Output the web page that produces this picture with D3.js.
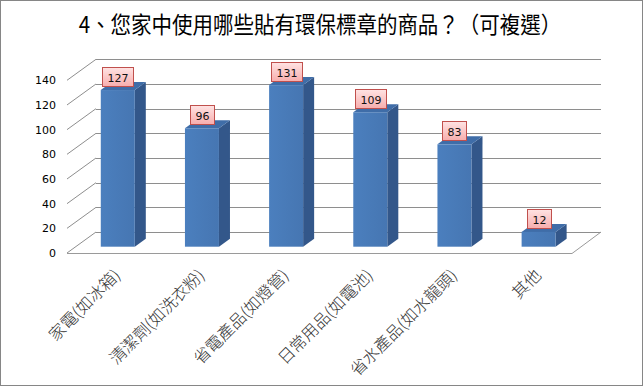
<!DOCTYPE html>
<html>
<head>
<meta charset="utf-8">
<script src="https://cdn.jsdelivr.net/npm/d3@7"></script>
<style>
  html, body { margin: 0; padding: 0; background: #fff; }
  svg { display: block; }
</style>
</head>
<body>
<div id="chart"></div>
<script>
// ── Données ───────────────────────────────────────────────────────────────
const title = '4、您家中使用哪些貼有環保標章的商品？（可複選）';
const categories = ['家電(如冰箱)', '清潔劑(如洗衣粉)', '省電產品(如燈管)', '日常用品(如電池)', '省水產品(如水龍頭)', '其他'];
const values = [127, 96, 131, 109, 83, 12];
const yTicks = [0, 20, 40, 60, 80, 100, 120, 140];

// ── Mise en page ─────────────────────────────────────────────────────────
const W = 644, H = 387;
const DX = 29, DY = 21;           // profondeur oblique du plancher
const zFront = 0.3, zBack = 0.68; // profondeur des barres

const svg = d3.select('#chart').append('svg').attr('width', W).attr('height', H);

svg.append('rect').attr('x', 0.5).attr('y', 0.5).attr('width', W - 2).attr('height', H - 2)
  .attr('fill', '#fff').attr('stroke', '#868686').attr('stroke-width', 1);

const x = d3.scaleBand().domain(categories).range([67, 572]);
const y = d3.scaleLinear().domain([0, 140]).range([253, 80.3]);

// projection oblique : (x, valeur, z) -> écran
const px = (xv, z) => xv + z * DX;
const py = (v, z) => y(v) - z * DY;

const defs = svg.append('defs');
const gFront = defs.append('linearGradient').attr('id', 'gFront').attr('x1', 0).attr('x2', 1);
gFront.append('stop').attr('offset', '0%').attr('stop-color', '#4B7FBE');
gFront.append('stop').attr('offset', '100%').attr('stop-color', '#4676B2');
const gLab = defs.append('linearGradient').attr('id', 'gLab').attr('x1', 0).attr('x2', 0).attr('y1', 0).attr('y2', 1);
gLab.append('stop').attr('offset', '0%').attr('stop-color', '#FFE3E3');
gLab.append('stop').attr('offset', '100%').attr('stop-color', '#F7ADAD');

// Titre
svg.append('text').attr('transform', 'translate(320,33) scale(1,1.1)').attr('text-anchor', 'middle')
  .attr('font-family', '"Noto Sans CJK TC", sans-serif').attr('font-size', '20.5px')
  .attr('fill', '#000').text(title);

// Grille : mur du fond + mur gauche
const x0 = x.range()[0], x1 = x.range()[1];
const grid = svg.append('g').attr('stroke', '#8E8E8E').attr('stroke-width', 1).attr('fill', 'none');
yTicks.forEach(t => {
  grid.append('line').attr('x1', px(x0, 1)).attr('x2', px(x1, 1))
    .attr('y1', Math.round(py(t, 1)) + 0.5).attr('y2', Math.round(py(t, 1)) + 0.5);
  grid.append('line').attr('x1', px(x0, 0)).attr('y1', py(t, 0))
    .attr('x2', px(x0, 1)).attr('y2', py(t, 1));
});
// Plancher
grid.append('path').attr('d', `M${px(x0,0)},${Math.round(py(0,0))+0.5} L${px(x1,0)},${Math.round(py(0,0))+0.5} L${px(x1,1)},${py(0,1)}`)
  .attr('stroke', '#9A9A9A');

// Étiquettes de l'axe Y
svg.append('g').selectAll('text').data(yTicks).enter().append('text')
  .attr('x', 56).attr('y', d => y(d) + 4).attr('text-anchor', 'end')
  .attr('font-family', '"DejaVu Sans", Verdana, sans-serif').attr('font-size', '11px')
  .attr('fill', '#000').text(d => d);

// Barres 3D
const bw = x.bandwidth() * 0.404;
const bars = svg.append('g');
categories.forEach((c, i) => {
  const v = values[i];
  const cx = x(c) + x.bandwidth() / 2;
  const l = px(cx - bw / 2, zFront), r = px(cx + bw / 2, zFront);
  const yt = py(v, zFront), yb = py(0, zFront);
  const ddx = (zBack - zFront) * DX, ddy = (zBack - zFront) * DY;
  bars.append('path').attr('d', `M${r},${yt} L${r+ddx},${yt-ddy} L${r+ddx},${yb-ddy} L${r},${yb}Z`).attr('fill', '#33578A');
  bars.append('path').attr('d', `M${l},${yt} L${l+ddx},${yt-ddy} L${r+ddx},${yt-ddy} L${r},${yt}Z`).attr('fill', '#3F6DA8');
  bars.append('rect').attr('x', l).attr('y', yt).attr('width', r - l).attr('height', yb - yt).attr('fill', 'url(#gFront)');

  // Étiquette de valeur
  const txt = String(v);
  const lw = txt.length * 7 + 10, lh = 19;
  const lc = (l + r) / 2;
  const g = svg.append('g').attr('transform', `translate(${Math.round(lc - lw / 2) + 0.5},${Math.round(yt - 4 - lh) + 0.5})`);
  g.append('rect').attr('width', lw).attr('height', lh).attr('fill', 'url(#gLab)')
    .attr('stroke', '#C0504D').attr('stroke-width', 1);
  g.append('text').attr('x', lw / 2).attr('y', 14).attr('text-anchor', 'middle')
    .attr('font-family', '"DejaVu Sans", Verdana, sans-serif').attr('font-size', '11px')
    .attr('fill', '#111').text(txt);
});

// Étiquettes des catégories (rotation -45°)
svg.append('g').selectAll('text').data(categories).enter().append('text')
  .attr('transform', d => `translate(${x(d) + x.bandwidth() / 2 + 3},${267}) rotate(-45)`)
  .attr('text-anchor', 'end').attr('dy', '0.8em')
  .attr('font-family', '"Noto Sans CJK TC", sans-serif').attr('font-size', '16.5px')
  .attr('font-weight', 300).attr('fill', '#333').text(d => d);
</script>
</body>
</html>
